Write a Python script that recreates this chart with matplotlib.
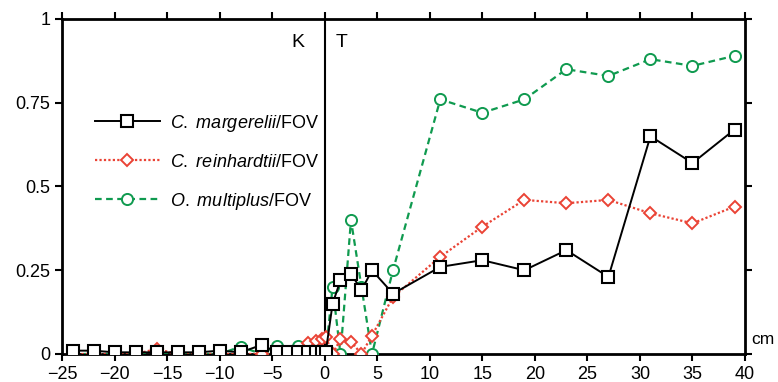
import numpy as np
import matplotlib
matplotlib.use("Agg")
import matplotlib.pyplot as plt

plt.rcParams['font.family'] = ['Liberation Sans', 'DejaVu Sans']
plt.rcParams['mathtext.fontset'] = 'custom'
plt.rcParams['mathtext.it'] = 'Liberation Sans:italic'
plt.rcParams['mathtext.rm'] = 'Liberation Sans'

# sample depths (cm), relative to the K/T boundary
depth = [-24, -22, -20, -18, -16, -14, -12, -10, -8, -6, -4.5, -3.5, -2.5, -1.6, -0.8, -0.3, 0.1,
         0.75, 1.5, 2.5, 3.5, 4.5, 6.5, 11, 15, 19, 23, 27, 31, 35, 39]

margerelii = [0.01, 0.01, 0.005, 0.005, 0.005, 0.005, 0.005, 0.01, 0.005, 0.027, 0.005, 0.005, 0.005,
              0.005, 0.005, 0.005, 0.005,
              0.15, 0.22, 0.24, 0.19, 0.25, 0.18, 0.26, 0.28, 0.25, 0.31, 0.23, 0.65, 0.57, 0.67]
reinhardtii = [0, 0, 0, 0, 0.015, 0, 0, 0, 0, 0, 0, 0, 0, 0.034, 0.04, 0.044, 0.052,
               0, 0.044, 0.037, 0, 0.055, 0.17, 0.29, 0.38, 0.46, 0.45, 0.46, 0.42, 0.39, 0.44]
multiplus = [0, 0, 0, 0, 0, 0, 0, 0, 0.022, 0, 0.025, 0, 0.025, 0, 0, 0, 0,
             0.2, 0, 0.4, 0.2, 0, 0.25, 0.76, 0.72, 0.76, 0.85, 0.83, 0.88, 0.86, 0.89]

xticks = [-25, -20, -15, -10, -5, 0, 5, 10, 15, 20, 25, 30, 35, 40]
yticks = [0, 0.25, 0.5, 0.75, 1]
ylabels = ['0', '0.25', '0.5', '0.75', '1']

green = '#0f9a4f'
red = '#ea4335'

fig = plt.figure(figsize=(7.78, 3.82), dpi=100)
ax = fig.add_axes([0.0797, 0.0733, 0.8779, 0.877])

ax.plot(depth, multiplus, color=green, ls=(0, (3, 2)), lw=1.6, marker='o', ms=8,
        mfc='white', mec=green, mew=1.4, label=r'$\it{O.\ multiplus}$/FOV', zorder=3)
ax.plot(depth, reinhardtii, color=red, ls=(0, (1, 1)), lw=1.6, marker='D', ms=6.5,
        mfc='white', mec=red, mew=1.4, label=r'$\it{C.\ reinhardtii}$/FOV', zorder=4)
ax.plot(depth, margerelii, color='black', ls='-', lw=1.4, marker='s', ms=9,
        mfc='white', mec='black', mew=1.5, label=r'$\it{C.\ margerelii}$/FOV', zorder=5)

ax.axvline(0, color='black', lw=1.5, zorder=2)

ax.set_xlim(-25, 40)
ax.set_ylim(0, 1)
ax.set_xticks(xticks)
ax.set_yticks(yticks)
ax.set_yticklabels(ylabels)
ax.tick_params(direction='out', length=5, width=1.5, labelsize=13,
               top=True, right=True, labeltop=False, labelright=False)
for s in ax.spines.values():
    s.set_linewidth(2)

ax.text(-2.6, 0.93, 'K', fontsize=14, ha='center', va='center')
ax.text(1.6, 0.93, 'T', fontsize=14, ha='center', va='center')
fig.text(0.966, 0.11, 'cm', fontsize=12.5, ha='left', va='center')

h, l = ax.get_legend_handles_labels()
ax.legend(h[::-1], l[::-1], loc='upper left', bbox_to_anchor=(0.048, 0.72), frameon=False,
          fontsize=13, borderpad=0, borderaxespad=0, handlelength=3.6, handletextpad=0.55,
          labelspacing=1.1)

fig.savefig('out.png', dpi=100)
